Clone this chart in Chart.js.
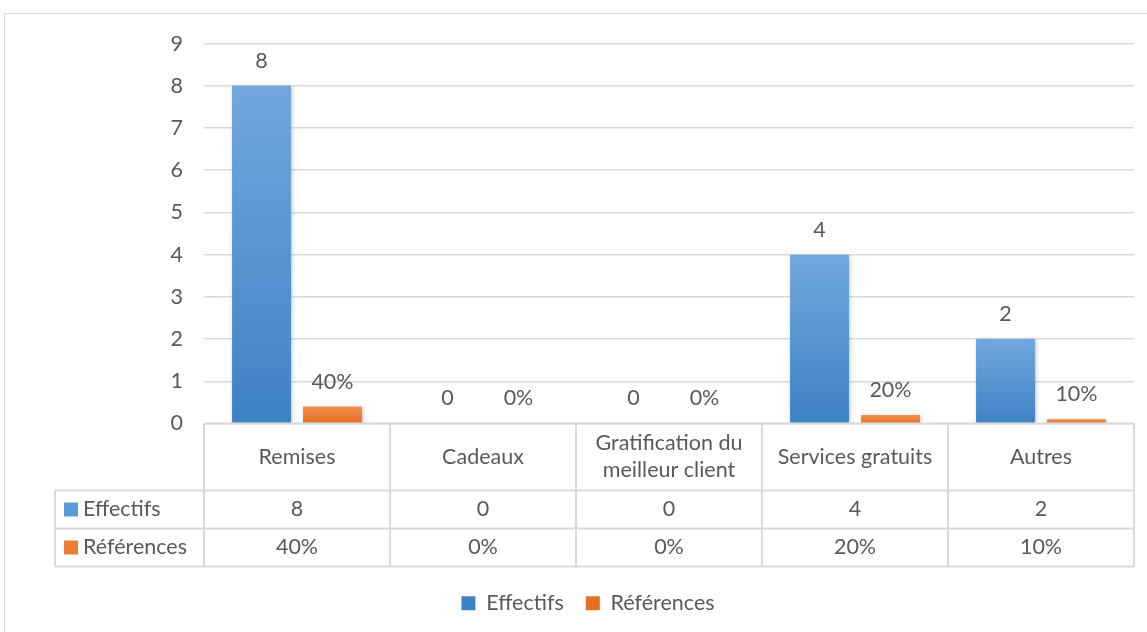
<!DOCTYPE html>
<html>
<head>
<meta charset="utf-8">
<script src="https://cdn.jsdelivr.net/npm/chart.js@4.4.0/dist/chart.umd.min.js"></script>
<style>
  html, body { margin: 0; padding: 0; background: #fff; overflow: hidden; width: 1147px; height: 632px; }
  #frame { position: absolute; left: 4px; top: 13px; width: 1200px; height: 700px; border: 1px solid #d9d9d9; }
  #chart { position: absolute; left: 0; top: 0; }
</style>
</head>
<body>
<div id="frame"><canvas id="chart" width="1142" height="618"></canvas></div>
<script>
const categories = ["Remises", "Cadeaux", ["Gratification du", "meilleur client"], "Services gratuits", "Autres"];
const seriesNames = ["Effectifs", "Références"];
const effectifs = [8, 0, 0, 4, 2];
const references = [0.4, 0, 0, 0.2, 0.1];
const yMax = 9;

const TXT = "#595959";
const GRID = "#d9d9d9";
const FONT = "Lato, Carlito, Calibri, sans-serif";
const FSIZE = 21.5;

const fmtRef = v => Math.round(v * 100) + "%";
const fmtEff = v => String(v);

// per-bar vertical gradient, like the Excel fill
function barFill(light, dark, solid) {
  return (c) => {
    const chart = c.chart;
    if (!chart.chartArea || c.type !== "data") return solid;
    const y = chart.scales.y;
    const top = y.getPixelForValue(c.raw);
    const bottom = y.getPixelForValue(0);
    if (bottom - top < 1) return solid;
    const g = chart.ctx.createLinearGradient(0, top, 0, bottom);
    g.addColorStop(0, light);
    g.addColorStop(1, dark);
    return g;
  };
}

const barShadow = {
  id: "barShadow",
  beforeDatasetsDraw(chart) {
    const ctx = chart.ctx;
    ctx.save();
    ctx.shadowColor = "rgba(0,0,0,0.25)";
    ctx.shadowBlur = 4;
    ctx.shadowOffsetX = 1;
    ctx.shadowOffsetY = 1;
  },
  afterDatasetsDraw(chart) {
    chart.ctx.restore();
  }
};

const valueLabels = {
  id: "valueLabels",
  afterDatasetsDraw(chart) {
    const ctx = chart.ctx;
    ctx.save();
    ctx.font = FSIZE + "px " + FONT;
    ctx.fillStyle = TXT;
    ctx.textAlign = "center";
    ctx.textBaseline = "middle";
    chart.data.datasets.forEach((ds, i) => {
      const fmt = i === 0 ? fmtEff : fmtRef;
      chart.getDatasetMeta(i).data.forEach((el, j) => {
        ctx.fillText(fmt(ds.data[j]), el.x, el.y - 25);
      });
    });
    ctx.restore();
  }
};

// data table under the plot
const dataTable = {
  id: "dataTable",
  afterDraw(chart) {
    const ctx = chart.ctx;
    const area = chart.chartArea;
    const x = chart.scales.x;
    const n = categories.length;
    const cw = (area.right - area.left) / n;
    const top = area.bottom;
    const r1 = top + 67, r2 = r1 + 38, r3 = r2 + 38;
    const left = 50;

    ctx.save();
    ctx.strokeStyle = GRID;
    ctx.lineWidth = 2;
    ctx.beginPath();
    ctx.moveTo(area.left, top); ctx.lineTo(area.right, top);
    ctx.moveTo(left, r1); ctx.lineTo(area.right, r1);
    ctx.moveTo(left, r2); ctx.lineTo(area.right, r2);
    ctx.moveTo(left, r3); ctx.lineTo(area.right, r3);
    ctx.moveTo(left, r1); ctx.lineTo(left, r3);
    for (let i = 0; i <= n; i++) {
      const xx = area.left + i * cw;
      ctx.moveTo(xx, top); ctx.lineTo(xx, r3);
    }
    ctx.stroke();

    ctx.font = FSIZE + "px " + FONT;
    ctx.fillStyle = TXT;
    ctx.textAlign = "center";
    ctx.textBaseline = "middle";
    categories.forEach((c, i) => {
      const cx = x.getPixelForValue(i);
      const lines = Array.isArray(c) ? c : [c];
      const mid = (top + r1) / 2;
      lines.forEach((l, k) => {
        ctx.fillText(l, cx, mid + (k - (lines.length - 1) / 2) * 27);
      });
      ctx.fillText(fmtEff(effectifs[i]), cx, (r1 + r2) / 2);
      ctx.fillText(fmtRef(references[i]), cx, (r2 + r3) / 2);
    });

    const keys = [["#5b9bd5", r1], ["#ed7d31", r2]];
    ctx.textAlign = "left";
    keys.forEach(([col, ry], k) => {
      const cy = ry + 19;
      ctx.fillStyle = col;
      ctx.fillRect(left + 9, cy - 7, 14, 14);
      ctx.fillStyle = TXT;
      ctx.fillText(seriesNames[k], left + 28, cy);
    });
    ctx.restore();
  }
};

new Chart(document.getElementById("chart"), {
  type: "bar",
  data: {
    labels: categories,
    datasets: [
      {
        label: seriesNames[0],
        data: effectifs,
        backgroundColor: barFill("#70a7de", "#3e82c4", "#5b9bd5"),
        categoryPercentage: 0.763,
        barPercentage: 0.83
      },
      {
        label: seriesNames[1],
        data: references,
        backgroundColor: barFill("#f38f4f", "#e46f20", "#ed7d31"),
        categoryPercentage: 0.763,
        barPercentage: 0.83
      }
    ]
  },
  options: {
    responsive: false,
    animation: false,
    devicePixelRatio: 1,
    layout: { padding: { left: 37, right: 13, top: 20, bottom: 8 } },
    plugins: {
      legend: {
        position: "bottom",
        labels: {
          boxWidth: 14,
          boxHeight: 14,
          padding: 22,
          color: TXT,
          font: { family: FONT, size: FSIZE }
        }
      },
      tooltip: { enabled: false },
      title: { display: false }
    },
    scales: {
      x: {
        grid: { display: false },
        border: { display: false },
        ticks: { display: false },
        afterFit(scale) { scale.height = 147; }
      },
      y: {
        min: 0,
        max: yMax,
        ticks: {
          stepSize: 1,
          padding: 21,
          color: TXT,
          font: { family: FONT, size: FSIZE, lineHeight: 0.8 }
        },
        grid: { color: GRID, lineWidth: 1.5, drawTicks: false },
        border: { display: false },
        afterFit(scale) { scale.width = 162; }
      }
    }
  },
  plugins: [barShadow, valueLabels, dataTable]
});
</script>
</body>
</html>
